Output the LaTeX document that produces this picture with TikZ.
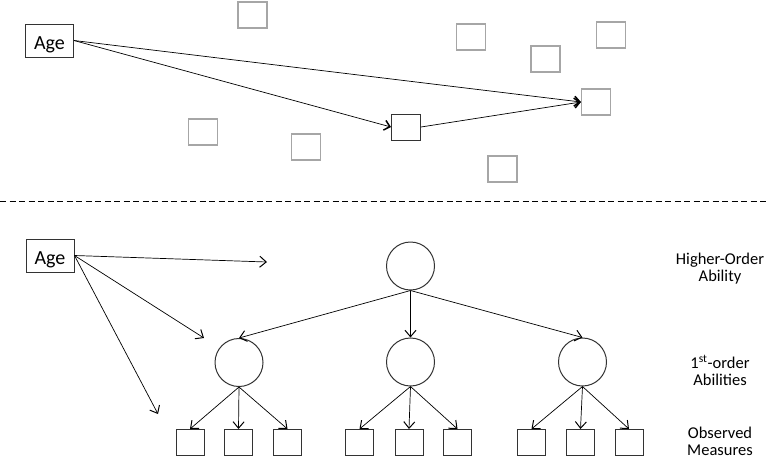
\documentclass[tikz,border=0pt]{standalone}
\usepackage{fontspec}
\setmainfont{Carlito}
\usetikzlibrary{arrows.meta}
\begin{document}
\begin{tikzpicture}[x=1pt,y=-1pt,
  graybox/.style={draw=black!35,line width=1.1pt,minimum width=29pt,minimum height=26pt,inner sep=0pt},
  blackbox/.style={draw=black!80,line width=1pt,minimum width=29pt,minimum height=26pt,inner sep=0pt},
  obsbox/.style={draw=black!80,line width=1pt,minimum width=28pt,minimum height=26pt,inner sep=0pt},
  agebox/.style={draw=black!80,line width=1pt,minimum width=48pt,minimum height=33pt,inner sep=0pt,
    text height=17pt,text depth=0pt,font=\fontsize{20}{22}\selectfont},
  latent/.style={draw=black!80,line width=1pt,circle,minimum size=48pt,inner sep=0pt},
  lbl/.style={align=center,font=\fontsize{16.5}{17}\selectfont},
  toparr/.style={line width=0.7pt,-{Straight Barb[length=5.5pt,width=10pt,line width=1.5pt]}},
  arr/.style={line width=0.7pt,-{Straight Barb[length=6.5pt,width=11pt,line width=1pt]}}]
\useasboundingbox (0,0) rectangle (768,459);
% ---------- top panel ----------
\node[agebox] (ageT) at (49.5,40.5) {Age};
\node[graybox] (g1) at (252.5,15) {};
\node[graybox] (g2) at (203,132) {};
\node[graybox] (g3) at (306,147) {};
\node[graybox] (g4) at (471,37) {};
\node[graybox] (g5) at (545.5,59) {};
\node[graybox] (g6) at (611,35) {};
\node[graybox] (g7) at (596,102) {};
\node[graybox] (g8) at (502.5,169) {};
\node[blackbox] (bk) at (406,127) {};
\draw[toparr] (ageT.east) -- (bk.west);
\draw[toparr] (ageT.east) -- (g7.west);
\draw[toparr] (bk.east) -- (g7.west);
% ---------- divider ----------
\coordinate (dL) at (0,201);
\coordinate (dR) at (768,201);
\draw[line width=0.8pt,dash pattern=on 6pt off 3.5pt] (dL) -- (dR);
% ---------- bottom panel ----------
\node[agebox] (ageB) at (50,255.5) {Age};
\node[latent] (h) at (410.5,266) {};
\node[latent] (f1) at (239,362.5) {};
\node[latent] (f2) at (410.5,362) {};
\node[latent] (f3) at (582.5,362) {};
\foreach \n/\x in {o1/190,o2/238.5,o3/287.5,o4/359.5,o5/409,o6/457.5,o7/531.5,o8/580.5,o9/629}
  \node[obsbox] (\n) at (\x,442.5) {};
\coordinate (e1) at (267,262);
\coordinate (e2) at (204,338);
\coordinate (e3) at (158,414);
\draw[arr] (ageB.east) -- (e1);
\draw[arr] (ageB.east) -- (e2);
\draw[arr] (ageB.east) -- (e3);
\draw[arr] (h.south) -- (f1.north);
\draw[arr] (h.south) -- (f2.north);
\draw[arr] (h.south) -- (f3.north);
\draw[arr] (f1.south) -- (o1.north);
\draw[arr] (f1.south) -- (o2.north);
\draw[arr] (f1.south) -- (o3.north);
\draw[arr] (f2.south) -- (o4.north);
\draw[arr] (f2.south) -- (o5.north);
\draw[arr] (f2.south) -- (o6.north);
\draw[arr] (f3.south) -- (o7.north);
\draw[arr] (f3.south) -- (o8.north);
\draw[arr] (f3.south) -- (o9.north);
\node[lbl] (l1) at (720,268.5) {Higher-Order\\Ability};
\node[lbl] (l2) at (720,370.5) {1\textsuperscript{st}-order\\Abilities};
\node[lbl] (l3) at (720,441) {Observed\\Measures};
\end{tikzpicture}
\end{document}
